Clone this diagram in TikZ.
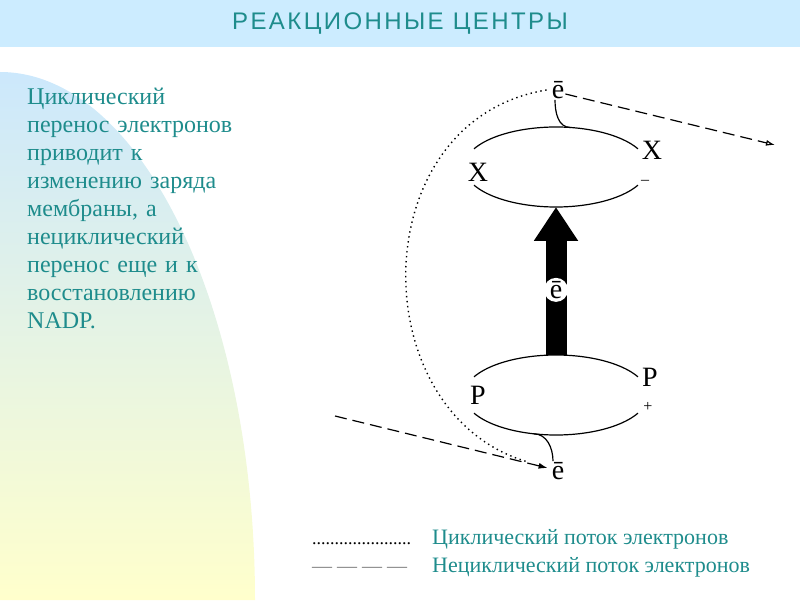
\documentclass[tikz,border=0pt]{standalone}
\usepackage{fontspec}
\setmainfont{Liberation Serif}
\newfontfamily\titlefont[LetterSpace=10]{Liberation Sans}
\usepackage{tikz}
\usetikzlibrary{arrows.meta,calc}
\definecolor{tealtext}{RGB}{30,140,140}
\definecolor{bandblue}{RGB}{204,236,255}
\definecolor{shadeblue}{RGB}{204,232,252}
\definecolor{shadeyellow}{RGB}{255,255,204}
\tikzset{
  lbl/.style={inner sep=1pt, font=\fontsize{28}{30}\selectfont},
  chg/.style={inner sep=0pt, font=\fontsize{16}{18}\selectfont},
  link/.style={line width=1.2pt},
  cyc/.style={dash pattern=on 1.4pt off 3.6pt, line width=1.4pt},
  noncyc/.style={dash pattern=on 12pt off 6pt, line width=1.2pt},
  keytext/.style={anchor=base west, inner sep=0pt, text=tealtext, font=\fontsize{22}{24}\selectfont}
}

\begin{document}
\begin{tikzpicture}[x=1pt,y=1pt]
  \useasboundingbox (0,0) rectangle (800,600);
  \fill[bandblue] (0,553) rectangle (800,600);
  \shade[top color=shadeblue, bottom color=shadeyellow] (0,0) -- (0,528) arc[start angle=90, end angle=0, x radius=255, y radius=528] -- cycle;

  \node[text=tealtext, font=\titlefont\fontsize{24}{26}\selectfont] (title) at (400,576) {РЕАКЦИОННЫЕ ЦЕНТРЫ};
  \node[anchor=base west, text width=260pt, align=left, inner sep=0pt, text=tealtext, font=\fontsize{24}{27.9}\selectfont] (info) at (27,495)
    {Циклический\\ перенос электронов\\ приводит к\\ изменению заряда\\ мембраны, а\\ нециклический\\ перенос еще и к\\ восстановлению\\ NADP.};

  \coordinate (xc) at (556,433);
  \coordinate (pc) at (556,205);
  \draw[link] ([shift={(153:92 and 40)}]xc) arc[start angle=153, end angle=27, x radius=92, y radius=40];
  \draw[link] ([shift={(207:92 and 40)}]xc) arc[start angle=207, end angle=333, x radius=92, y radius=40];
  \draw[link] ([shift={(153:92 and 40)}]pc) arc[start angle=153, end angle=27, x radius=92, y radius=40];
  \draw[link] ([shift={(207:92 and 40)}]pc) arc[start angle=207, end angle=333, x radius=92, y radius=40];

  \node[lbl] (xl) at (478,428) {X};
  \node[lbl] (xr) at (652,450) {X};
  \node[chg] (xm) at (645,418) {–};
  \node[lbl] (pl) at (478,205) {P};
  \node[lbl] (pr) at (650,223) {P};
  \node[chg] (pp) at (648,193) {+};
  \node[lbl] (etop) at (558,510) {ē};
  \node[lbl] (ebot) at (558,129) {ē};

  \coordinate (xtop) at ([shift={(81:92 and 40)}]xc);
  \coordinate (xbot) at ([shift={(270:92 and 40)}]xc);
  \coordinate (ptop) at ([shift={(90:92 and 40)}]pc);
  \coordinate (pbot) at ([shift={(256:92 and 40)}]pc);
  \draw[link] (xtop) to[out=180, in=-90] ([xshift=-3pt]etop.south);
  \draw[link] (pbot) to[out=0, in=90] ([xshift=-5pt]ebot.north);

  \draw[line width=21pt, -{Triangle[length=34pt, width=42pt]}] (ptop) -- (xbot);
  \node[lbl, circle, fill=white, inner sep=0pt, minimum size=24pt] (emid) at ($(ptop)!0.44!(xbot)$) {ē};

  \coordinate (cycend) at (528,138);
  \coordinate (nadpout) at (775,455);
  \coordinate (donorin) at (335,184);
  \draw[cyc] ([xshift=-4pt]etop.west) .. controls (362,480) and (362,186) .. (cycend);
  \draw[noncyc, -{Latex[open, length=9pt, width=6pt]}] ([yshift=-4pt]etop.east) -- (nadpout);
  \draw[noncyc, -{Latex[length=9pt, width=6pt]}] (donorin) -- ([shift={(-3pt,3pt)}]ebot.west);

  \node[anchor=base west, inner sep=0pt, font=\fontsize{18}{20}\selectfont] (dotkey) at (312,56) {......................};
  \node[anchor=base west, inner sep=0pt, text=gray, font=\fontsize{20}{22}\selectfont] (dashkey) at (312,28) {— — — —};
  \node[keytext] (cyckey) at (432,56) {Циклический поток электронов};
  \node[keytext] (noncyckey) at (432,28) {Нециклический поток электронов};
\end{tikzpicture}
\end{document}
